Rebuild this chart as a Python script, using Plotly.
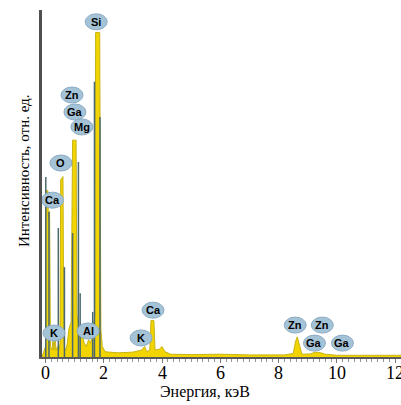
import plotly.graph_objects as go

# Spectrum (energy in keV, intensity in arbitrary units)
energy = [-0.12, 0.00, 0.02, 0.08, 0.10, 0.14, 0.17, 0.22, 0.26, 0.29, 0.33, 0.36, 0.42, 0.47,
          0.50, 0.52, 0.60, 0.63, 0.70, 0.75, 0.80, 0.88, 0.93, 1.05, 1.08, 1.15, 1.25, 1.33,
          1.40, 1.48, 1.55, 1.62, 1.70, 1.72, 1.86, 1.90, 1.95, 2.05, 2.5, 3.0, 3.3, 3.4,
          3.48, 3.58, 3.62, 3.72, 3.76, 3.9, 4.0, 4.1, 4.3, 5.0, 6.0, 7.0, 8.2, 8.5,
          8.58, 8.64, 8.72, 8.8, 9.1, 9.25, 9.45, 9.6, 10.0, 12.2]
intensity = [0, 3, 48, 48, 40, 42, 3, 2, 5, 2, 6, 2, 3, 2,
             4, 51, 52, 3, 2, 4, 8, 10, 62.5, 62.5, 12, 9, 7, 4,
             3, 5, 4, 8, 12, 93.5, 93.5, 8, 3, 1.5, 1.2, 1.4, 2.0, 3.0,
             1.5, 2.0, 10.5, 10.5, 2, 2.2, 3.0, 1.5, 0.8, 0.7, 0.8, 0.6, 0.6, 1.0,
             4.5, 5.8, 3.0, 0.8, 0.9, 1.4, 1.2, 0.8, 0.5, 0.5]

# Secondary (dark) lines
line_pos = [0.01, 0.12, 0.44, 0.65, 0.93, 1.13, 1.19, 1.62, 1.68, 1.87]
line_height = [51.9, 41.8, 37.2, 25.9, 35.7, 56.2, 18.4, 13.0, 79.3, 69.2]

# Element labels
label_text = ["Si", "Zn", "Ga", "Mg", "O", "Ca", "K", "Al", "K", "Ca", "Zn", "Zn", "Ga", "Ga"]
label_x = [1.74, 0.91, 1.01, 1.25, 0.53, 0.24, 0.29, 1.46, 3.28, 3.69, 8.57, 9.50, 9.23, 10.19]
label_y = [96.6, 75.5, 70.6, 66.3, 55.9, 45.2, 6.9, 7.5, 5.5, 13.5, 9.2, 9.2, 4.0, 4.0]

x_ticks = [0, 2, 4, 6, 8, 10, 12]

fig = go.Figure()
fig.add_trace(go.Scatter(
    x=energy, y=intensity, mode="lines", fill="tozeroy",
    fillcolor="rgb(242,212,0)", line=dict(color="rgb(200,180,20)", width=1),
    hoverinfo="skip", showlegend=False))

lx, ly = [], []
for e, h in zip(line_pos, line_height):
    lx += [e, e, None]
    ly += [0, h, None]
fig.add_trace(go.Scatter(
    x=lx, y=ly, mode="lines", line=dict(color="rgb(75,105,110)", width=1.5),
    hoverinfo="skip", showlegend=False))

shapes = []
annotations = []
for t, x, y in zip(label_text, label_x, label_y):
    shapes.append(dict(type="circle", xref="x", yref="y", xsizemode="pixel", ysizemode="pixel",
                       xanchor=x, yanchor=y, x0=-11, x1=11, y0=-8, y1=8,
                       fillcolor="rgb(165,195,215)", line=dict(color="rgb(140,172,196)", width=1)))
    annotations.append(dict(x=x, y=y, xref="x", yref="y", text="<b>%s</b>" % t, showarrow=False,
                            font=dict(family="Liberation Sans", size=11, color="black")))

# x tick labels placed just under the axis
for v in x_ticks:
    annotations.append(dict(x=v, y=-(373 - 357) / 347, xref="x", yref="paper", text=str(v),
                            showarrow=False, xanchor="center", yanchor="middle",
                            font=dict(family="Liberation Serif", size=18, color="black")))

annotations.append(dict(x=(205 - 42) / 359, y=-(392 - 357) / 347, xref="paper", yref="paper",
                        text="Энергия, кэВ", showarrow=False, yanchor="middle",
                        font=dict(family="Liberation Serif", size=16, color="black")))
annotations.append(dict(x=-0.05, y=(357 - 171) / 347, xref="paper", yref="paper",
                        xanchor="center", yanchor="middle", textangle=-90,
                        text="Интенсивность, отн. ед.", showarrow=False,
                        font=dict(family="Liberation Serif", size=15, color="black")))

fig.update_layout(
    width=401, height=405,
    margin=dict(l=42, r=0, t=10, b=48),
    plot_bgcolor="white", paper_bgcolor="white",
    shapes=shapes, annotations=annotations,
    xaxis=dict(range=[-0.12, 12.2], tickvals=x_ticks, showticklabels=False,
               showgrid=False, zeroline=False, showline=True, linecolor="rgb(90,90,90)", linewidth=2,
               ticks="outside", ticklen=4, tickcolor="rgb(120,120,120)",
               minor=dict(dtick=0.2, ticks="outside", ticklen=3, tickcolor="rgb(150,150,150)")),
    yaxis=dict(range=[0, 100], showticklabels=False, ticks="", showgrid=False, zeroline=False,
               showline=True, linecolor="rgb(80,80,80)", linewidth=3),
)

fig.write_html("out.html")
